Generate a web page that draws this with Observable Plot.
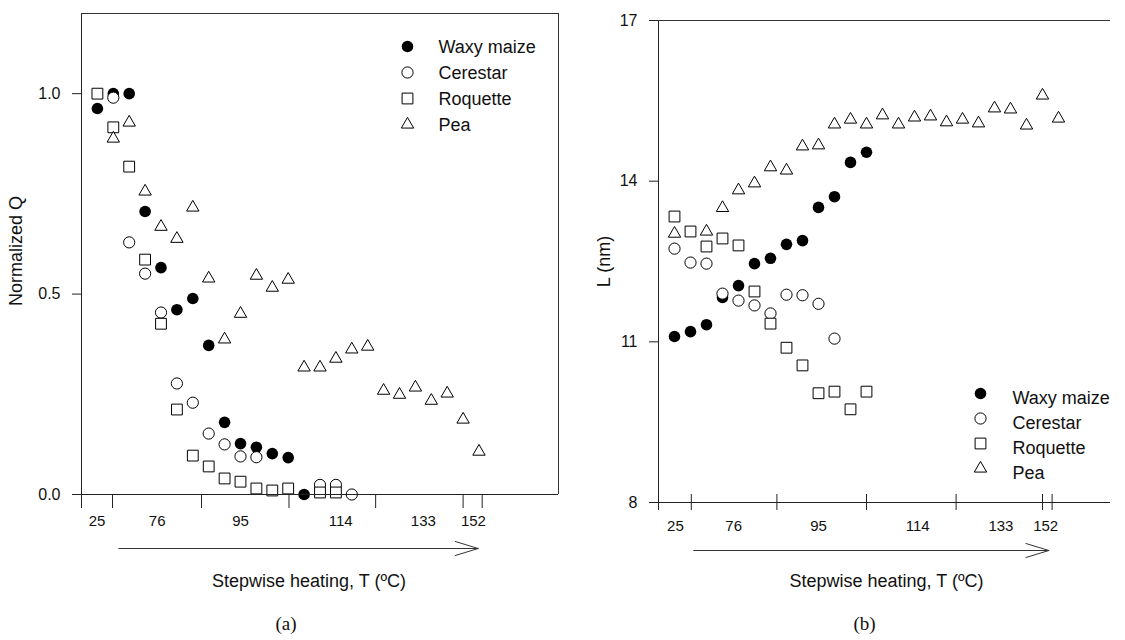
<!DOCTYPE html>
<html><head><meta charset="utf-8">
<script src="https://cdn.jsdelivr.net/npm/d3@7"></script>
<script src="https://cdn.jsdelivr.net/npm/@observablehq/plot@0.6"></script>
<style>
html,body{margin:0;padding:0;background:#fff;}
#wrap{position:relative;width:1125px;height:640px;overflow:hidden;background:#fff;}
#wrap svg{position:absolute;top:0;overflow:visible;}
</style></head><body><div id="wrap"></div>
<script>
// ---------- data ----------
const seriesNames = ["Waxy maize", "Cerestar", "Roquette", "Pea"];
const tempLabels = ["25", "76", "95", "114", "133", "152"];

// Panel (a): Normalized Q by heating step (step 1, 2, ...)
const qWaxy     = [0.963, 1.0, 1.0, 0.706, 0.566, 0.461, 0.489, 0.372, 0.180, 0.127, 0.118, 0.102, 0.092, 0.0];
const qCerestar = [null, 0.99, 0.629, 0.551, 0.454, 0.277, 0.229, 0.152, 0.125, 0.095, 0.093, null, null, null, 0.024, 0.024, 0.0];
const qRoquette = [1.0, 0.916, 0.818, 0.586, 0.426, 0.212, 0.097, 0.070, 0.040, 0.032, 0.015, 0.010, 0.015, null, 0.005, 0.005];
const qPea      = [null, 0.888, 0.928, 0.756, 0.668, 0.638, 0.716, 0.539, 0.387, 0.451, 0.546, 0.516, 0.536, 0.317, 0.317, 0.339, 0.362, 0.369, 0.259, 0.249, 0.267, 0.234, 0.252, 0.187, 0.107];

// Panel (b): L (nm) by heating step
const lWaxy     = [11.10, 11.19, 11.32, 11.83, 12.05, 12.46, 12.56, 12.82, 12.89, 13.51, 13.71, 14.35, 14.54];
const lCerestar = [12.74, 12.48, 12.46, 11.90, 11.77, 11.68, 11.53, 11.88, 11.87, 11.71, 11.06];
const lRoquette = [13.34, 13.06, 12.78, 12.93, 12.80, 11.94, 11.34, 10.89, 10.56, 10.04, 10.07, 9.74, 10.07];
const lPea      = [13.02, null, 13.06, 13.50, 13.83, 13.96, 14.26, 14.20, 14.65, 14.67, 15.06, 15.15, 15.06, 15.23, 15.06, 15.19, 15.21, 15.10, 15.15, 15.08, 15.36, 15.34, 15.04, 15.60, 15.17];

// axis: stage boundaries (in steps) and label positions
const stageTicksA = [0, 1.95, 7.55, 13.05, 18.5, 24, 25.2];
const stageTicksB = [0, 2.05, 7.4, 13, 18.6, 24, 24.6];
const labelStepsA = [0.98, 4.76, 10.0, 16.3, 21.5, 24.65];
const labelStepsB = [1.06, 4.7, 10.0, 16.2, 21.4, 24.2];
const arrowSpanA = [2.35, 24.95];
const arrowSpanB = [2.2, 24.4];
const yTicksA = [0, 0.5, 1.0];
const yTicksB = [8, 11, 14, 17];

// ---------- styling ----------
const sans = "'Liberation Sans', Arial, Helvetica, sans-serif";
const serif = "'Liberation Serif', 'Times New Roman', serif";
const markerStyles = [
  {symbol: "circle",   fill: "black", stroke: "none",  r: 5.8},
  {symbol: "circle",   fill: "white", stroke: "black", r: 5.6},
  {symbol: "square",   fill: "white", stroke: "black", r: 6.1},
  {symbol: "triangle", fill: "white", stroke: "black", r: 4.6}
];
const rows = arr => arr.map((v, k) => ({step: k + 1, v})).filter(d => d.v != null);

function panel(cfg) {
  const fh = cfg.height - cfg.marginTop - cfg.marginBottom;
  const marks = [];
  cfg.series.forEach((arr, s) => {
    const m = markerStyles[s];
    marks.push(Plot.dot(rows(arr), {x: "step", y: "v", symbol: m.symbol, r: m.r, fill: m.fill, stroke: m.stroke, strokeWidth: 1}));
  });
  // frame / axis lines (drawn on top of data)
  marks.push(Plot.ruleX([cfg.xDomain[0]], {stroke: "#222", insetBottom: -cfg.axisExt}));
  if (cfg.rightFrame) marks.push(Plot.ruleX([cfg.xDomain[1]], {stroke: "#333"}));
  marks.push(Plot.ruleY([cfg.yDomain[0]], {stroke: "#222"}));
  marks.push(Plot.ruleY([cfg.yDomain[1]], {stroke: "#333"}));
  marks.push(Plot.axisY({ticks: cfg.yTicks, tickSize: 9, tickPadding: 12, tickFormat: cfg.yFormat, fontSize: 16, label: null, stroke: "#222"}));
  marks.push(Plot.ruleX(cfg.stageTicks, {x: d => d, insetTop: fh - cfg.tickUp, insetBottom: -cfg.tickDown, stroke: "#222"}));
  marks.push(Plot.text(tempLabels, {x: (d, i) => cfg.labelSteps[i], text: d => d, frameAnchor: "bottom", lineAnchor: "middle", textAnchor: "middle", dy: cfg.labelDy, fontSize: 15, fill: "#111"}));
  marks.push(Plot.arrow([cfg.arrowSpan], {x1: d => d[0], x2: d => d[1], y1: cfg.yDomain[0], y2: cfg.yDomain[0], dy: cfg.arrowDy, headLength: 36, headAngle: 34, stroke: "#333", strokeWidth: 1}));
  marks.push(Plot.text(["Stepwise heating, T (ºC)"], {frameAnchor: "bottom", lineAnchor: "middle", textAnchor: "middle", dx: cfg.titleDx, dy: cfg.titleDy, fontSize: 18, fill: "#111"}));
  marks.push(Plot.text([cfg.tag], {frameAnchor: "bottom", lineAnchor: "middle", textAnchor: "middle", dx: cfg.tagDx, dy: cfg.tagDy, fontSize: 19, fontFamily: serif, fill: "#111"}));
  marks.push(Plot.text([cfg.yLabel], {frameAnchor: "left", rotate: -90, lineAnchor: "middle", textAnchor: "middle", dx: cfg.yLabelDx, dy: cfg.yLabelDy, fontSize: 18, fill: "#111"}));
  // legend
  seriesNames.forEach((name, s) => {
    const m = markerStyles[s];
    marks.push(Plot.dot([name], {frameAnchor: "top-left", dx: cfg.leg.sx, dy: cfg.leg.sy + s * cfg.leg.step, symbol: m.symbol, r: m.r, fill: m.fill, stroke: m.stroke, strokeWidth: 1}));
    marks.push(Plot.text([name], {frameAnchor: "top-left", textAnchor: "start", lineAnchor: "middle", dx: cfg.leg.tx, dy: cfg.leg.ty + s * cfg.leg.step, fontSize: 18, fill: "#111"}));
  });
  const svg = Plot.plot({
    width: cfg.width, height: cfg.height,
    marginLeft: cfg.marginLeft, marginRight: cfg.marginRight, marginTop: cfg.marginTop, marginBottom: cfg.marginBottom,
    x: {domain: cfg.xDomain, axis: null},
    y: {domain: cfg.yDomain, axis: null},
    style: {fontFamily: sans, fontSize: "16px", background: "transparent", color: "#111", overflow: "visible"},
    marks
  });
  svg.style.left = cfg.left + "px";
  return svg;
}

const wrap = document.getElementById("wrap");
wrap.appendChild(panel({
  left: 0, width: 560, height: 640,
  marginLeft: 81, marginRight: 2, marginTop: 13, marginBottom: 146,
  xDomain: [0, 30], yDomain: [0, 1.2], yTicks: yTicksA, yFormat: d3.format(".1f"),
  series: [qWaxy, qCerestar, qRoquette, qPea], rightFrame: true,
  axisExt: 13, stageTicks: stageTicksA, tickUp: 0, tickDown: 14, labelSteps: labelStepsA, labelDy: 27,
  arrowSpan: arrowSpanA, arrowDy: 54, titleDx: -11, titleDy: 87, tag: "(a)", tagDx: -34, tagDy: 129,
  yLabel: "Normalized Q", yLabelDx: -65, yLabelDy: -3,
  leg: {sx: 326, sy: 33, tx: 357, ty: 34, step: 26}
}));
wrap.appendChild(panel({
  left: 560, width: 565, height: 640,
  marginLeft: 98, marginRight: 15, marginTop: 20, marginBottom: 138,
  xDomain: [0, 28.25], yDomain: [8, 17], yTicks: yTicksB, yFormat: d3.format("d"),
  series: [lWaxy, lCerestar, lRoquette, lPea], rightFrame: false,
  axisExt: 8, stageTicks: stageTicksB, tickUp: 8, tickDown: 8, labelSteps: labelStepsB, labelDy: 24,
  arrowSpan: arrowSpanB, arrowDy: 48, titleDx: 2, titleDy: 79, tag: "(b)", tagDx: -20, tagDy: 121,
  yLabel: "L (nm)", yLabelDx: -54, yLabelDy: 0,
  leg: {sx: 322, sy: 373, tx: 354, ty: 378, step: 25}
}));
</script></body></html>
